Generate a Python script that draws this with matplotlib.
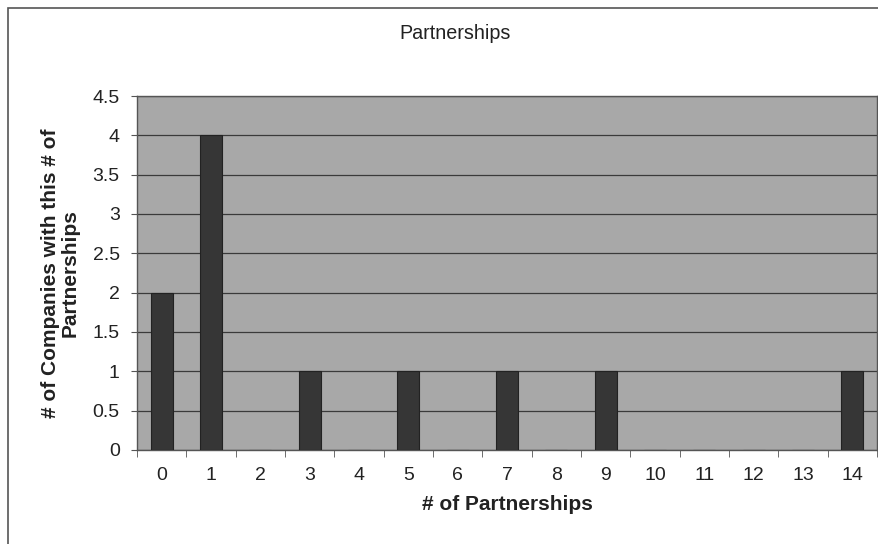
import matplotlib.pyplot as plt
from matplotlib.patches import Rectangle
from matplotlib.ticker import MultipleLocator, FixedLocator, NullFormatter

plt.rcParams['font.family'] = ['Liberation Sans', 'DejaVu Sans']

partnerships = ["0", "1", "2", "3", "4", "5", "6", "7", "8", "9", "10", "11", "12", "13", "14"]
companies = [2, 4, 0, 1, 0, 1, 0, 1, 0, 1, 0, 0, 0, 0, 1]

fig = plt.figure(figsize=(8.79, 5.44), dpi=100)
ax = fig.add_axes([137 / 879, 94 / 544, 740 / 879, 354 / 544])

# outer chart border (left/top visible, rest cropped off)
fig.patches.append(Rectangle((8 / 879, -0.1), 1.2, 1.1 - 8 / 544,
                             transform=fig.transFigure, fill=False,
                             edgecolor='#555555', lw=1.2))

ax.set_facecolor('#a8a8a8')
x = list(range(len(partnerships)))
ax.bar(x, companies, width=0.45, color='#363636', edgecolor='#222222', lw=0.8, zorder=3)

ax.set_xlim(-0.5, len(partnerships) - 0.5)
ax.set_ylim(0, 4.5)
ax.yaxis.set_major_locator(MultipleLocator(0.5))
ax.yaxis.set_major_formatter(plt.FuncFormatter(lambda v, p: f"{v:g}"))
ax.grid(axis='y', color='#3a3a3a', lw=0.9, zorder=1)

ax.set_xticks(x)
ax.set_xticklabels(partnerships)
ax.xaxis.set_minor_locator(FixedLocator([i - 0.5 for i in range(len(partnerships) + 1)]))
ax.xaxis.set_minor_formatter(NullFormatter())
ax.tick_params(axis='x', which='major', length=0, pad=12, labelsize=14, colors='#222222')
ax.tick_params(axis='x', which='minor', length=5, color='#555555', direction='out')
ax.tick_params(axis='y', length=4.5, color='#555555', labelsize=14, pad=8, labelcolor='#222222')

for s in ax.spines.values():
    s.set_color('#555555')
    s.set_linewidth(1.0)

fig.text(455 / 879, 1 - 33.5 / 544, 'Partnerships', fontsize=14.2, color='#222222',
         ha='center', va='center')
ax.set_xlabel('# of Partnerships', fontsize=15, fontweight='bold', labelpad=8, color='#222222')
ax.set_ylabel('# of Companies with this # of\nPartnerships', fontsize=15, fontweight='bold',
              labelpad=9, color='#222222', linespacing=1.05)

fig.savefig('out.png', dpi=100)
